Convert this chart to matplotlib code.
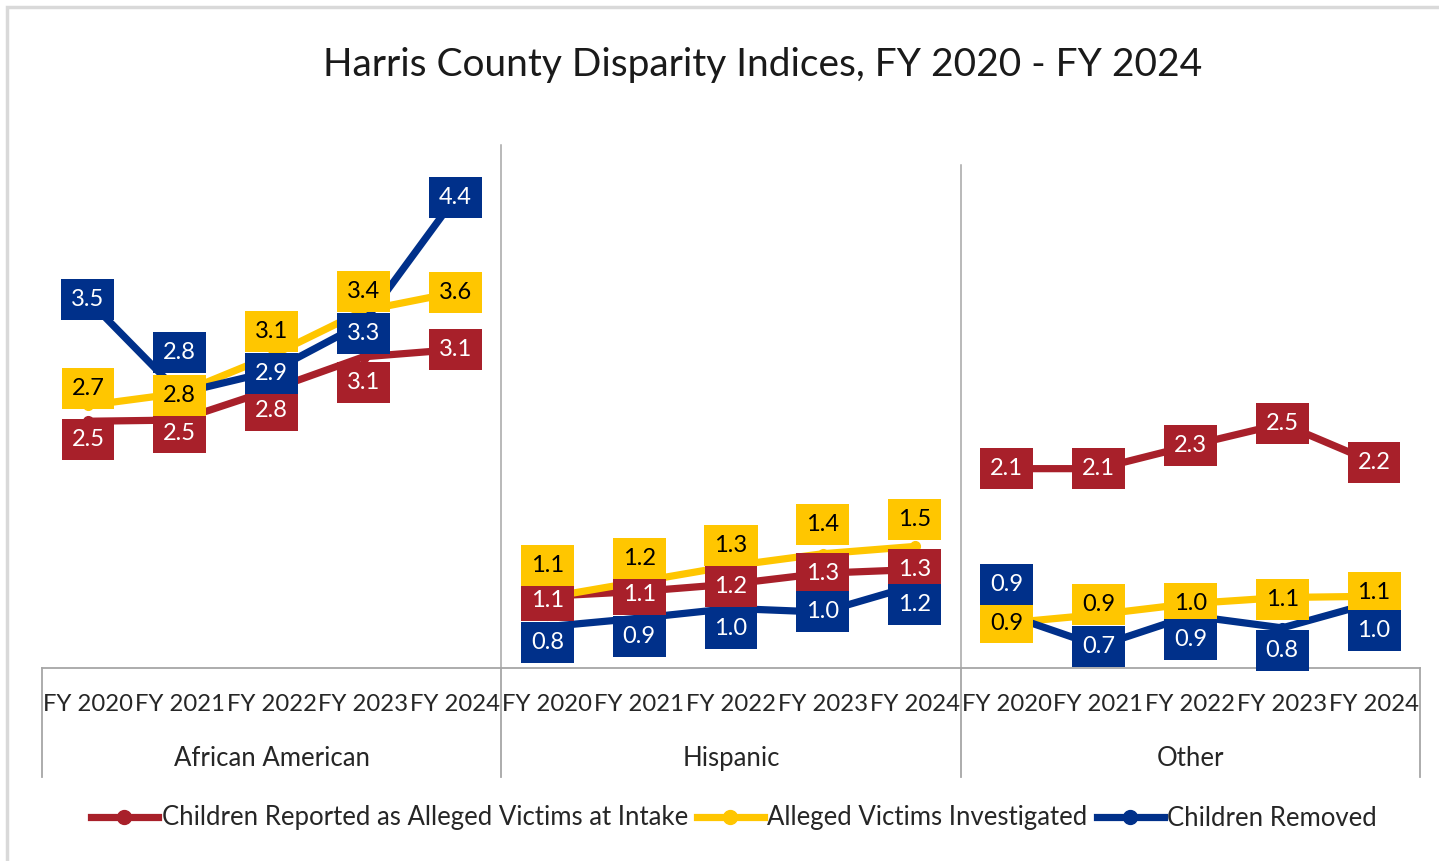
import matplotlib
matplotlib.use('Agg')
import matplotlib.pyplot as plt
from matplotlib.lines import Line2D
from matplotlib.patches import Rectangle

plt.rcParams['font.family'] = ['Lato', 'DejaVu Sans']

# data
years = ['FY 2020', 'FY 2021', 'FY 2022', 'FY 2023', 'FY 2024']
groups = ['African American', 'Hispanic', 'Other']
series_names = ['Children Reported as Alleged Victims at Intake',
                'Alleged Victims Investigated',
                'Children Removed']

# values per series: African American, Hispanic, Other (5 fiscal years each)
intake = [2.53, 2.54, 2.79, 3.06, 3.12,
          1.09, 1.13, 1.19, 1.28, 1.31,
          2.14, 2.14, 2.33, 2.51, 2.19]
investigated = [2.66, 2.76, 3.07, 3.44, 3.59,
                1.08, 1.21, 1.34, 1.44, 1.50,
                0.87, 0.94, 1.03, 1.08, 1.09]
removed = [3.53, 2.76, 2.94, 3.34, 4.37,
           0.84, 0.91, 0.99, 0.96, 1.18,
           0.94, 0.68, 0.93, 0.83, 1.04]

# label offsets in pixels (vertical, up positive)
intake_dy = [-18, -13, -21, -26, 0,
             -4, -3, -2, 0, 0,
             0, 0, 0, 0, 0]
investigated_dy = [17, -2, 24, 19, 0,
                   32, 23, 20, 29, 27,
                   0, 10, 0, -2, 4]
removed_dy = [0, 41, -2, -11, 0,
              -16, -18, -20, 1, -19,
              30, 0, -24, -23, -28]

colors = ['#A8202A', '#FFC600', '#00308A']
text_colors = ['white', 'black', 'white']

fig = plt.figure(figsize=(14.39, 8.61), dpi=100)
ax = fig.add_axes([42 / 1439, (861 - 668) / 861, 1378 / 1439, 547 / 861])

# outer chart border
fig.patches.append(Rectangle((7 / 1439, -0.01), 1.01, (861 - 7) / 861 + 0.01,
                             transform=fig.transFigure, fill=False,
                             edgecolor='#d9d9d9', lw=2.5))

n = len(years)
all_series = [intake, investigated, removed]
all_dy = [intake_dy, investigated_dy, removed_dy]

for s, vals in enumerate(all_series):
    for g in range(len(groups)):
        xs = list(range(g * n, g * n + n))
        ax.plot(xs, vals[g * n:g * n + n], color=colors[s], lw=5.2,
                marker='o', ms=7, solid_capstyle='round', zorder=2 + s)

for s, (vals, dys) in enumerate(zip(all_series, all_dy)):
    for i, v in enumerate(vals):
        ax.annotate(f'{v:.1f}', (i, v), xytext=(0, dys[i]),
                    textcoords='offset pixels', ha='center', va='center',
                    fontsize=17, color=text_colors[s], zorder=10 + s,
                    bbox=dict(boxstyle='square,pad=0.42', fc=colors[s],
                              ec='none'))

ax.set_xlim(-0.5, len(groups) * n - 0.5)
ax.set_ylim(0.5, 5.0)
ax.set_yticks([])
for sp in ['left', 'right', 'top']:
    ax.spines[sp].set_visible(False)
ax.spines['bottom'].set_color('#a6a6a6')
ax.spines['bottom'].set_linewidth(1.3)

ax.set_xticks(range(len(groups) * n))
ax.set_xticklabels(years * len(groups), fontsize=17.2, color='#262626')
ax.tick_params(axis='x', length=0, pad=19)

# group labels and category table lines
for g, name in enumerate(groups):
    ax.text(g * n + (n - 1) / 2, -0.165, name, transform=ax.get_xaxis_transform(),
            ha='center', va='center', fontsize=18.5, color='#262626')
for b in range(len(groups) + 1):
    ax.plot([b * n - 0.5] * 2, [0, -0.199], transform=ax.get_xaxis_transform(),
            color='#a6a6a6', lw=1.3, clip_on=False)

# separators inside the plot
ax.plot([n - 0.5] * 2, [0, 0.956], transform=ax.get_xaxis_transform(),
        color='#a6a6a6', lw=1.1)
ax.plot([2 * n - 0.5] * 2, [0, 0.92], transform=ax.get_xaxis_transform(),
        color='#a6a6a6', lw=1.1)

fig.text(763 / 1439, 1 - 65 / 861, 'Harris County Disparity Indices, FY 2020 - FY 2024',
         ha='center', va='center', fontsize=28, color='#1a1a1a')

handles = [Line2D([], [], color=c, lw=5.2, marker='o', ms=10) for c in colors]
fig.legend(handles, series_names, loc='center', bbox_to_anchor=(734 / 1439, 1 - 818 / 861),
           ncol=3, frameon=False, fontsize=18.5, handlelength=2.6, handletextpad=0.15,
           columnspacing=0.35, labelcolor='#262626')

fig.savefig('out.png', dpi=100)
